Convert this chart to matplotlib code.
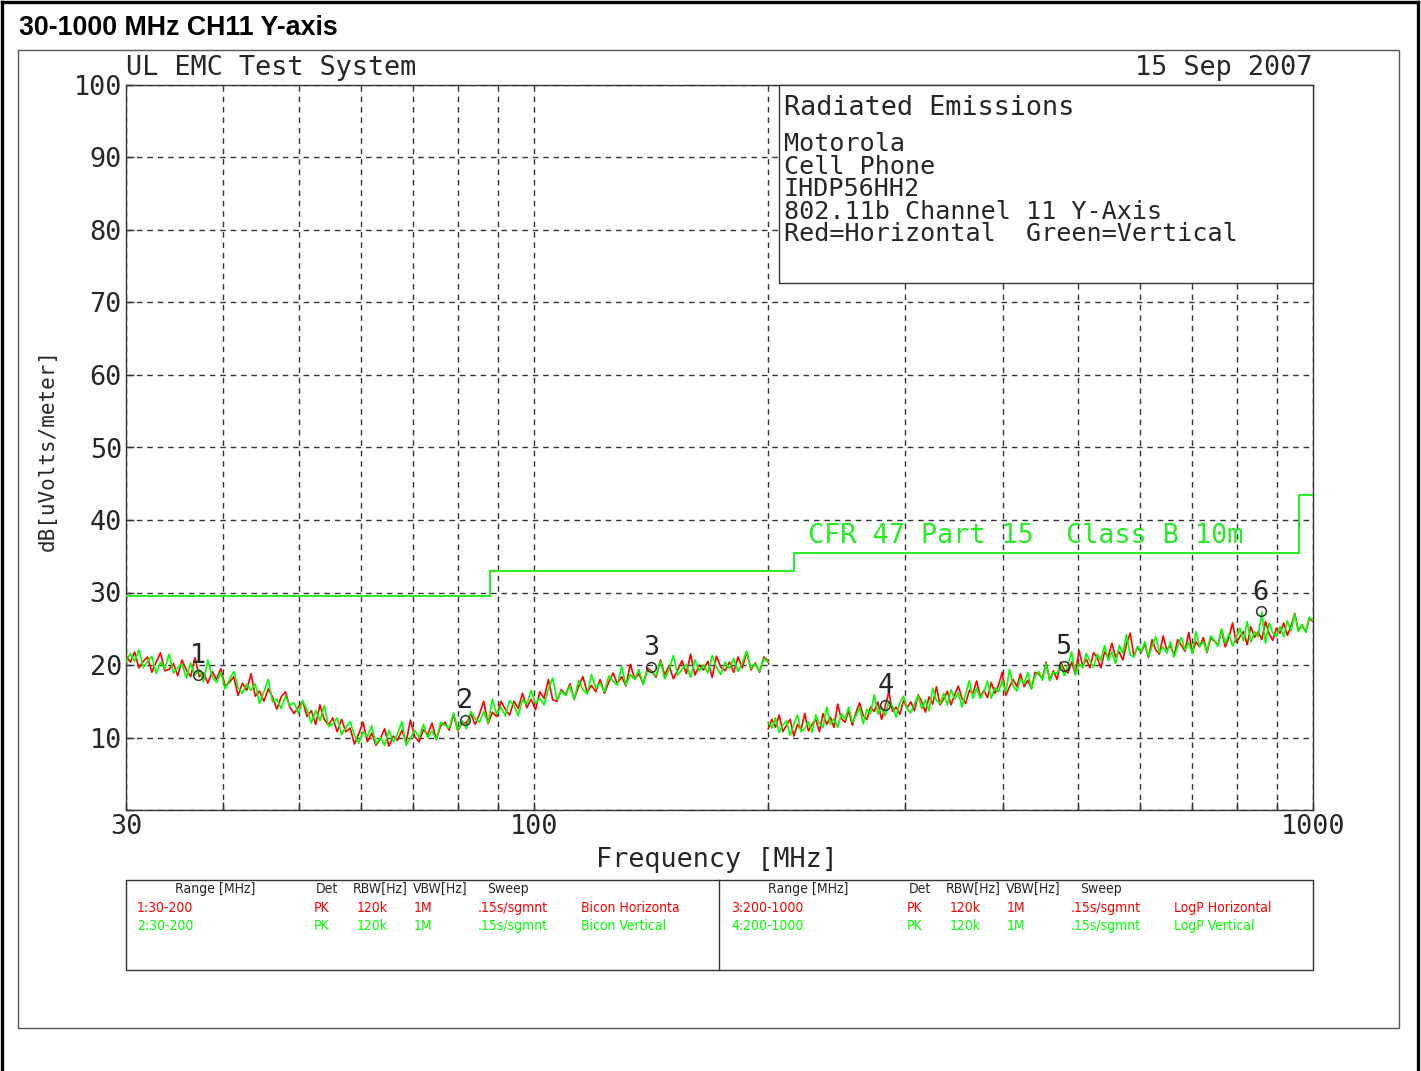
import numpy as np
import matplotlib
matplotlib.use('Agg')
import matplotlib.pyplot as plt
from matplotlib.patches import Rectangle
from matplotlib.lines import Line2D
from matplotlib.ticker import FixedLocator, FixedFormatter, NullLocator

# ---------------- data ----------------
seg1_start, seg1_stop, seg1_points = 30, 200, 150
seg2_start, seg2_stop, seg2_points = 200, 1000, 150

red_30_200 = [
    21.3, 20.4, 21.8, 19.6, 20.5, 21.1, 19.0, 20.4, 21.7, 19.2,
    19.4, 20.2, 18.5, 20.7, 19.3, 18.4, 21.0, 18.4, 18.9, 17.5,
    19.1, 18.0, 19.5, 17.1, 17.6, 18.4, 15.8, 17.5, 16.5, 18.8,
    15.7, 16.4, 15.0, 16.7, 15.6, 13.9, 15.6, 16.3, 14.2, 13.3,
    14.2, 15.0, 12.9, 13.7, 11.8, 14.5, 12.5, 11.7, 12.7, 10.8,
    12.5, 10.8, 11.3, 9.1, 10.5, 12.1, 9.4, 10.6, 8.9, 9.8,
    11.2, 8.8, 10.2, 9.6, 11.0, 9.4, 12.4, 10.1, 9.4, 11.1,
    10.4, 12.0, 9.7, 11.6, 12.1, 11.0, 13.2, 10.9, 12.1, 12.0,
    13.3, 11.8, 13.2, 15.0, 11.9, 13.5, 12.9, 15.0, 13.9, 13.1,
    15.0, 14.0, 16.1, 14.1, 15.3, 13.8, 16.3, 15.4, 18.0, 15.2,
    15.0, 16.6, 15.9, 17.4, 15.3, 17.0, 18.4, 16.2, 17.2, 16.3,
    18.0, 16.1, 17.6, 18.9, 17.4, 18.4, 17.1, 20.1, 18.1, 18.8,
    17.4, 19.6, 19.1, 18.3, 20.7, 18.6, 19.9, 18.1, 19.3, 20.6,
    18.8, 21.5, 18.6, 20.0, 19.3, 20.5, 18.3, 21.2, 19.7, 19.2,
    20.4, 19.0, 21.1, 19.6, 21.8, 19.3, 20.3, 19.0, 21.1, 20.5,
]
green_30_200 = [
    20.4, 21.6, 20.5, 22.1, 19.6, 20.5, 21.2, 18.8, 20.4, 19.5,
    21.5, 18.9, 19.6, 20.1, 18.2, 20.3, 18.6, 19.4, 17.7, 20.7,
    18.4, 17.6, 19.0, 16.7, 18.0, 19.1, 16.9, 16.1, 17.4, 16.5,
    17.4, 14.7, 16.3, 18.0, 14.9, 15.3, 14.0, 15.7, 14.4, 14.8,
    13.3, 15.1, 13.8, 12.0, 13.7, 12.3, 14.4, 11.5, 11.9, 12.7,
    10.4, 11.4, 12.2, 10.3, 9.2, 10.8, 10.1, 11.6, 9.1, 10.0,
    8.9, 11.0, 9.4, 10.5, 12.2, 8.9, 10.0, 11.0, 10.0, 11.8,
    10.0, 10.9, 9.7, 12.1, 11.7, 11.3, 13.4, 11.0, 12.3, 11.2,
    13.6, 12.6, 12.1, 13.6, 12.0, 15.3, 13.2, 14.2, 13.0, 15.1,
    14.5, 13.0, 15.2, 14.6, 16.5, 14.7, 15.4, 14.5, 16.7, 18.2,
    15.2, 16.4, 15.8, 17.1, 15.2, 17.9, 16.6, 16.0, 18.7, 16.8,
    17.5, 16.3, 18.5, 17.8, 17.2, 19.8, 17.2, 18.7, 18.0, 19.4,
    17.3, 19.3, 19.0, 18.5, 20.5, 18.1, 19.4, 21.3, 18.6, 19.4,
    20.1, 18.3, 20.7, 19.2, 20.0, 18.9, 21.3, 19.7, 18.7, 20.4,
    19.5, 20.9, 19.1, 20.3, 21.9, 19.5, 20.2, 19.1, 20.9, 20.4,
]
red_200_1000 = [
    11.2, 12.5, 11.4, 13.1, 10.8, 11.7, 12.5, 10.2, 11.8, 11.1,
    13.3, 10.9, 11.8, 12.5, 10.8, 13.3, 11.8, 12.8, 11.4, 14.6,
    12.6, 12.1, 13.7, 11.7, 13.4, 14.8, 13.0, 12.5, 14.2, 13.6,
    14.9, 12.5, 14.3, 16.3, 13.6, 14.2, 13.2, 15.1, 14.1, 14.9,
    13.7, 15.9, 14.9, 13.5, 15.6, 14.6, 17.0, 14.5, 15.3, 16.4,
    14.5, 15.9, 17.1, 15.4, 14.7, 16.5, 16.1, 17.8, 15.6, 16.5,
    15.5, 17.6, 16.1, 17.2, 19.0, 15.8, 17.0, 18.0, 17.0, 18.8,
    17.0, 17.9, 16.7, 19.0, 18.7, 18.2, 20.4, 17.9, 19.2, 18.0,
    20.4, 19.3, 18.9, 20.4, 18.7, 22.0, 19.9, 20.8, 19.6, 21.7,
    21.0, 19.6, 21.8, 21.1, 23.0, 21.1, 21.8, 20.7, 22.9, 24.4,
    21.3, 22.4, 21.7, 22.9, 21.0, 23.5, 22.1, 21.5, 24.0, 22.1,
    22.7, 21.3, 23.5, 22.7, 21.9, 24.5, 21.7, 23.2, 22.5, 23.8,
    21.7, 23.7, 23.3, 22.8, 24.8, 22.5, 23.8, 25.8, 23.1, 23.9,
    24.6, 22.8, 25.3, 23.8, 24.6, 23.5, 26.0, 24.3, 23.4, 25.1,
    24.4, 25.8, 24.1, 25.4, 27.1, 24.8, 25.5, 24.6, 26.4, 26.0,
]
green_200_1000 = [
    12.1, 11.3, 12.7, 10.7, 11.7, 12.3, 10.3, 11.8, 13.1, 10.8,
    11.2, 12.2, 10.7, 13.1, 11.9, 11.4, 14.2, 11.8, 12.6, 11.4,
    13.3, 12.5, 14.2, 12.1, 13.0, 14.1, 11.9, 13.9, 13.3, 15.9,
    13.2, 14.2, 13.0, 15.0, 14.3, 12.8, 14.8, 15.7, 13.9, 13.4,
    14.6, 15.8, 14.0, 15.2, 13.7, 16.8, 15.1, 14.7, 16.1, 14.5,
    16.6, 15.3, 16.2, 14.2, 16.0, 17.8, 15.4, 16.8, 15.4, 16.3,
    17.8, 15.4, 16.9, 16.3, 17.8, 16.3, 19.4, 17.1, 16.4, 18.1,
    17.4, 19.0, 16.7, 18.5, 19.1, 17.9, 20.2, 17.8, 19.0, 18.8,
    20.1, 18.5, 20.0, 21.8, 18.6, 20.2, 19.6, 21.6, 20.5, 19.7,
    21.5, 20.6, 22.7, 20.6, 21.8, 20.2, 22.7, 21.6, 24.2, 21.4,
    21.1, 22.6, 21.8, 23.2, 21.1, 22.6, 23.9, 21.7, 22.5, 21.6,
    23.2, 21.1, 22.6, 23.8, 22.1, 23.1, 21.6, 24.6, 22.6, 23.2,
    21.8, 24.0, 23.4, 22.6, 25.0, 23.0, 24.3, 22.6, 23.8, 25.1,
    23.3, 26.0, 23.2, 24.6, 23.9, 27.3, 23.0, 25.8, 24.4, 23.9,
    25.3, 23.9, 26.1, 24.7, 27.0, 24.6, 25.6, 24.5, 26.6, 26.1,
]

limit_edges = [30, 88, 216, 960, 1000]
limit_levels = [29.5, 33.0, 35.5, 43.5]

marker_freq = [37.1, 81.7, 141.6, 282.8, 478.6, 856.9]
marker_level = [18.6, 12.4, 19.7, 14.5, 19.9, 27.4]
marker_labels = ['1', '2', '3', '4', '5', '6']

x_grid = [30, 40, 50, 60, 70, 80, 90, 100, 200, 300, 400, 500, 600, 700, 800, 900, 1000]
x_labels = ['30', '', '', '', '', '', '', '100', '', '', '', '', '', '', '', '', '1000']
y_grid = [0, 10, 20, 30, 40, 50, 60, 70, 80, 90, 100]
y_labels = ['', '10', '20', '30', '40', '50', '60', '70', '80', '90', '100']

info_lines = ['Motorola', 'Cell Phone', 'IHDP56HH2', '802.11b Channel 11 Y-Axis',
              'Red=Horizontal  Green=Vertical']

table_header = ['Range [MHz]', 'Det', 'RBW[Hz]', 'VBW[Hz]', 'Sweep']
table_rows = [
    ['1:30-200', 'PK', '120k', '1M', '.15s/sgmnt', 'Bicon Horizonta'],
    ['2:30-200', 'PK', '120k', '1M', '.15s/sgmnt', 'Bicon Vertical'],
    ['3:200-1000', 'PK', '120k', '1M', '.15s/sgmnt', 'LogP Horizontal'],
    ['4:200-1000', 'PK', '120k', '1M', '.15s/sgmnt', 'LogP Vertical'],
]

# ---------------- figure ----------------
W, H = 1421, 1071
fig = plt.figure(figsize=(W / 100, H / 100), dpi=100)
fig.patch.set_facecolor('white')

def fx(x):
    return x / W

def fy(y):
    return 1 - y / H

HP = 'DejaVu Sans Mono'
TXT = '#262626'
RED = '#ff0000'
GRN = '#00ff00'
LIMC = '#22ee22'
FS = 19.4

ax = fig.add_axes([fx(126), fy(810), (1313 - 126) / W, (810 - 85) / H])
ax.set_xscale('log')
ax.set_xlim(30, 1000)
ax.set_ylim(0, 100)
ax.xaxis.set_major_locator(FixedLocator(x_grid))
ax.xaxis.set_major_formatter(FixedFormatter(x_labels))
ax.xaxis.set_minor_locator(NullLocator())
ax.yaxis.set_major_locator(FixedLocator(y_grid))
ax.yaxis.set_major_formatter(FixedFormatter(y_labels))
ax.tick_params(axis='both', direction='in', length=6, width=1, color='#333333',
               labelsize=FS, labelcolor=TXT)
ax.tick_params(axis='x', pad=3)
ax.tick_params(axis='y', pad=3)
for lab in ax.get_xticklabels() + ax.get_yticklabels():
    lab.set_family(HP)
ax.grid(True, color='#333333', linestyle=(0, (4, 3.5)), linewidth=1)
for sp in ax.spines.values():
    sp.set_color('#333333')
    sp.set_linewidth(1)

f1 = np.geomspace(seg1_start, seg1_stop, seg1_points)
f2 = np.geomspace(seg2_start, seg2_stop, seg2_points)
ax.plot(f1, red_30_200, color=RED, lw=1.2, zorder=3)
ax.plot(f1, green_30_200, color=GRN, lw=1.2, zorder=3)
ax.plot(f2, red_200_1000, color=RED, lw=1.2, zorder=3)
ax.plot(f2, green_200_1000, color=GRN, lw=1.2, zorder=3)

ax.stairs(limit_levels, limit_edges, baseline=None, color=LIMC, lw=1.4, zorder=3)

ax.plot(marker_freq, marker_level, linestyle='none', marker='o', ms=7,
        mfc='none', mec='#333333', mew=1.1, zorder=4)
for f, lv, lb in zip(marker_freq, marker_level, marker_labels):
    ax.annotate(lb, (f, lv), xytext=(0, 13.5), textcoords='offset points',
                ha='center', va='center', fontsize=FS, family=HP, color=TXT, zorder=5)

# info box
ax.add_patch(Rectangle((fx(779), fy(283)), (1313 - 779) / W, (283 - 85) / H,
                       transform=fig.transFigure, facecolor='white', edgecolor='#333333',
                       lw=1, zorder=6, clip_on=False))
fig.text(fx(784), fy(108), 'Radiated Emissions', ha='left', va='center', fontsize=FS,
         family=HP, color=TXT, zorder=7)
for k, line in enumerate(info_lines):
    fig.text(fx(784), fy(144 + 22.6 * k), line, ha='left', va='center', fontsize=18.1,
             family=HP, color=TXT, zorder=7)

# header texts
fig.text(fx(126), fy(68), 'UL EMC Test System', ha='left', va='center', fontsize=FS,
         family=HP, color=TXT)
fig.text(fx(1312), fy(68), '15 Sep 2007', ha='right', va='center', fontsize=FS,
         family=HP, color=TXT)
fig.text(fx(808), fy(536), 'CFR 47 Part 15  Class B 10m', ha='left', va='center',
         fontsize=FS, family=HP, color=LIMC)
fig.text(fx(717), fy(860), 'Frequency [MHz]', ha='center', va='center', fontsize=FS,
         family=HP, color=TXT)
fig.text(fx(48), fy(450), 'dB[uVolts/meter]', ha='center', va='center', rotation=90,
         fontsize=15, family=HP, color=TXT)

# title
fig.text(fx(19), fy(28), '30-1000 MHz CH11 Y-axis', ha='left', va='center', fontsize=19.3,
         family='Liberation Sans', weight='bold', color='black')

# borders
fig.add_artist(Line2D([fx(1.5), fx(1.5)], [0, fy(1.5)], transform=fig.transFigure,
                      color='black', lw=2.4))
fig.add_artist(Line2D([fx(1.5), fx(1417.5)], [fy(1.5), fy(1.5)], transform=fig.transFigure,
                      color='black', lw=2.4))
fig.add_artist(Line2D([fx(1417.5), fx(1417.5)], [fy(1.5), 0], transform=fig.transFigure,
                      color='black', lw=2.4))
fig.add_artist(Rectangle((fx(18), fy(1028)), (1399 - 18) / W, (1028 - 50) / H,
                         transform=fig.transFigure, fill=False, edgecolor='#555555', lw=1))

# bottom table
fig.add_artist(Rectangle((fx(126), fy(970)), (1313 - 126) / W, (970 - 880) / H,
                         transform=fig.transFigure, fill=False, edgecolor='#333333', lw=1))
fig.add_artist(Line2D([fx(719), fx(719)], [fy(880), fy(970)], transform=fig.transFigure,
                      color='#333333', lw=1))
hdr_x = [175, 316, 353, 413, 487]
row_x = [137, 314, 357, 414, 478, 581]
row_y = [908, 926]
row_c = [RED, GRN]
TF = dict(fontsize=10, family='DejaVu Sans', fontstretch='condensed', va='center',
          ha='left')
for half, dx in enumerate([0, 593]):
    for hx, ht in zip(hdr_x, table_header):
        fig.text(fx(hx + dx), fy(889), ht, color=TXT, **TF)
    for r in range(2):
        row = table_rows[half * 2 + r]
        for cx, ct in zip(row_x, row):
            xx = cx + dx
            if ct == row[0] and half == 1:
                xx = 731
            fig.text(fx(xx), fy(row_y[r]), ct, color=row_c[r], **TF)

fig.savefig('out.png', dpi=100)
